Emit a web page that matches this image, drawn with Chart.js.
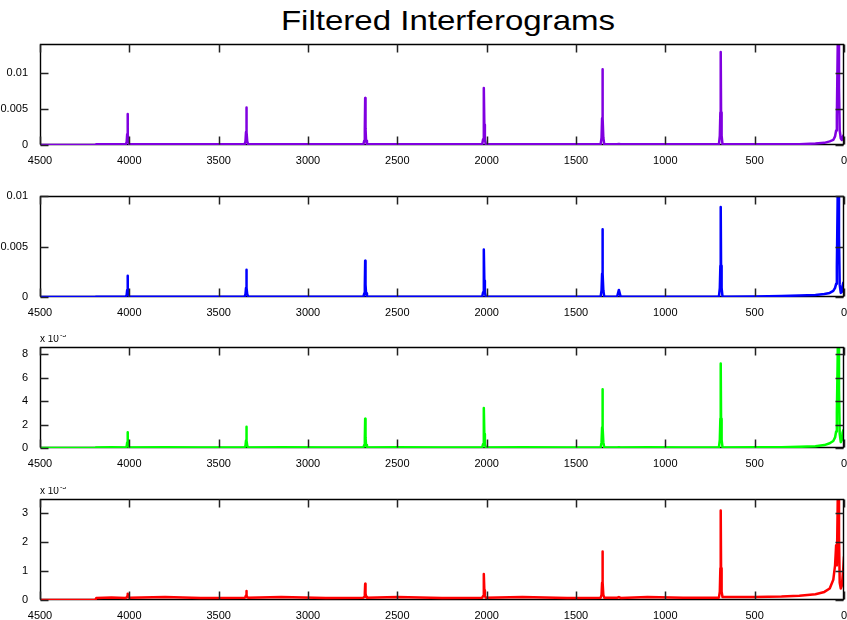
<!DOCTYPE html>
<html>
<head>
<meta charset="utf-8">
<script src="https://cdn.jsdelivr.net/npm/chart.js@4"></script>
<style>
  body { margin: 0; background: #fff; width: 847px; height: 620px; overflow: hidden; position: relative; }
  #title { position: absolute; left: 0; top: 7px; width: 896px; text-align: center;
           font-family: 'Liberation Sans', Arial, sans-serif; font-size: 28px; line-height: 28px; color: #000;
           transform: scaleX(1.18); transform-origin: 448px 0; }
  canvas { position: absolute; left: 0; }
</style>
</head>
<body>
<div id="title">Filtered Interferograms</div>
<canvas id="p1" width="847" height="133" style="top:32px"></canvas>
<canvas id="p2" width="847" height="133" style="top:184px"></canvas>
<canvas id="p3" width="847" height="133" style="top:335px"></canvas>
<canvas id="p4" width="847" height="133" style="top:487px"></canvas>
<script>
// sample positions shared by all four traces
const freq = [4500, 4190, 4185, 4100,
  4020, 4015, 4012, 4010, 4008, 4005, 4000,
  3800, 3600,
  3355, 3350, 3347, 3345, 3343, 3340, 3335,
  3150, 2900,
  2690, 2685, 2682, 2680, 2678, 2675, 2670,
  2500, 2250,
  2025, 2020, 2017, 2015, 2013, 2010, 2005,
  1800, 1550,
  1362, 1357, 1354, 1352, 1350, 1347, 1342,
  1270, 1260, 1250,
  1100, 900,
  700, 695, 692, 690, 688, 685, 680,
  500, 350, 250, 160, 110, 80, 60, 50, 44, 40, 36, 32, 28, 24, 18, 12, 8, 4, 0];

const purpleY = [0, 0, 0.0001, 0.00012,
  0.0001, 0.0004, 0.0015, 0.0043, 0.0015, 0.0004, 0.0001,
  0.00012, 0.0001,
  0.0001, 0.0005, 0.0018, 0.0052, 0.0018, 0.0005, 0.0001,
  0.00012, 0.0001,
  0.0001, 0.0006, 0.0023, 0.0065, 0.0023, 0.0006, 0.0001,
  0.00012, 0.0001,
  0.0001, 0.0008, 0.0028, 0.0079, 0.0028, 0.0008, 0.0001,
  0.0001, 0.00012,
  0.0001, 0.001, 0.0037, 0.0105, 0.0037, 0.001, 0.0001,
  0.0001, 0.00015, 0.0001,
  0.00012, 0.0001,
  0.0001, 0.0013, 0.0045, 0.0129, 0.0045, 0.0013, 0.0001,
  0.0001, 0.0001, 0.00012, 0.0002, 0.0003, 0.0005, 0.0007, 0.0012, 0.002, 0.004, 0.012, 0.02, 0.008, 0.002, 0.0009, 0.0007, 0.001, 0.0013, 0.0009];

const blueY = [0, 0, 0.00003, 0.00003,
  0.00003, 0.0002, 0.0007, 0.0021, 0.0007, 0.0002, 0.00003,
  0.00003, 0.00003,
  0.00003, 0.00027, 0.0009, 0.0027, 0.0009, 0.00027, 0.00003,
  0.00003, 0.00003,
  0.00003, 0.00036, 0.0012, 0.0036, 0.0012, 0.00036, 0.00003,
  0.00003, 0.00003,
  0.00003, 0.00047, 0.0016, 0.0047, 0.0016, 0.00047, 0.00003,
  0.00003, 0.00003,
  0.00003, 0.00067, 0.0023, 0.0067, 0.0023, 0.00067, 0.00003,
  0.00003, 0.0007, 0.00003,
  0.00003, 0.00003,
  0.00003, 0.0009, 0.0031, 0.0089, 0.0031, 0.0009, 0.00003,
  0.00005, 0.0001, 0.00015, 0.0002, 0.0003, 0.0004, 0.0006, 0.0009, 0.0013, 0.003, 0.009, 0.016, 0.006, 0.0012, 0.0004, 0.0005, 0.0011, 0.0014, 0.0008];

const greenY = [0, 0, 0.00005, 0.00006,
  0.00005, 0.00014, 0.00047, 0.00135, 0.00047, 0.00014, 0.00005,
  0.00006, 0.00005,
  0.00005, 0.00018, 0.00063, 0.0018, 0.00063, 0.00018, 0.00005,
  0.00006, 0.00005,
  0.00005, 0.00025, 0.00088, 0.0025, 0.00088, 0.00025, 0.00005,
  0.00006, 0.00005,
  0.00005, 0.00034, 0.0012, 0.0034, 0.0012, 0.00034, 0.00005,
  0.00006, 0.00005,
  0.00005, 0.0005, 0.00175, 0.005, 0.00175, 0.0005, 0.00005,
  0.00005, 0.00007, 0.00005,
  0.00006, 0.00005,
  0.00005, 0.00072, 0.0025, 0.0072, 0.0025, 0.00072, 0.00005,
  0.00006, 0.00006, 0.0001, 0.00015, 0.00025, 0.0004, 0.0006, 0.0009, 0.0014, 0.003, 0.007, 0.012, 0.005, 0.0012, 0.0005, 0.0007, 0.0013, 0.0015, 0.0009];

const redY = [0, 0, 0.00007, 0.00009,
  0.00007, 0.00009, 0.00013, 0.00022, 0.00013, 0.00009, 0.00008,
  0.0001, 0.00007,
  0.00008, 0.0001, 0.00016, 0.00031, 0.00016, 0.0001, 0.00008,
  0.0001, 0.00007,
  0.00008, 0.00011, 0.00024, 0.00056, 0.00024, 0.00011, 0.00008,
  0.0001, 0.00007,
  0.00008, 0.00014, 0.00034, 0.0009, 0.00034, 0.00014, 0.00008,
  0.0001, 0.00007,
  0.00008, 0.00018, 0.0006, 0.00168, 0.0006, 0.00018, 0.00008,
  0.00008, 0.0001, 0.00007,
  0.0001, 0.00008,
  0.00008, 0.0003, 0.0011, 0.0031, 0.0011, 0.0003, 0.0001,
  0.0001, 0.00012, 0.00015, 0.0002, 0.00028, 0.0004, 0.0007, 0.0012, 0.0019, 0.0012, 0.003, 0.005, 0.0022, 0.0006, 0.0004, 0.0005, 0.0008, 0.0011, 0.0015];

const xTicks = [4500, 4000, 3500, 3000, 2500, 2000, 1500, 1000, 500, 0];
const xLabels = ['4500', '4000', '3500', '3000', '2500', '2000', '1500', '1000', '500', '0'];

const yTicksA = [0, 0.005, 0.01];
const yLabelsA = ['0', '0.005', '0.01'];
const yTicksC = [0, 0.002, 0.004, 0.006, 0.008];
const yLabelsC = ['0', '2', '4', '6', '8'];
const yTicksD = [0, 0.001, 0.002, 0.003];
const yLabelsD = ['0', '1', '2', '3'];

const FONT = "'Liberation Sans', Arial, sans-serif";
const TICK = 8;

// bottom edge goes under the trace, the rest of the box and the inward ticks on top of it
const axesBox = {
  id: 'axesBox',
  beforeDatasetsDraw(chart) {
    const { ctx, chartArea: a } = chart;
    ctx.save();
    ctx.strokeStyle = '#000';
    ctx.lineWidth = 1.4;
    ctx.beginPath();
    ctx.moveTo(a.left, a.bottom - 0.5);
    ctx.lineTo(a.right, a.bottom - 0.5);
    ctx.stroke();
    ctx.restore();
  },
  afterDatasetsDraw(chart) {
    const { ctx, chartArea: a, scales } = chart;
    const l = a.left + 0.5, r = a.right - 0.5, t = a.top + 0.5, b = a.bottom - 0.5;
    ctx.save();
    ctx.strokeStyle = '#000';
    ctx.lineWidth = 1.4;
    ctx.beginPath();
    ctx.moveTo(l, b); ctx.lineTo(l, t); ctx.lineTo(r, t); ctx.lineTo(r, b);
    ctx.stroke();

    ctx.strokeStyle = '#222';
    ctx.lineWidth = 1.5;
    ctx.beginPath();
    for (const v of xTicks) {
      const px = Math.round(scales.x.getPixelForValue(v)) + 0.5;
      ctx.moveTo(px, b); ctx.lineTo(px, b - TICK);
      ctx.moveTo(px, t); ctx.lineTo(px, t + TICK);
    }
    for (const tk of scales.y.ticks) {
      const py = Math.round(scales.y.getPixelForValue(tk.value)) + 0.5;
      ctx.moveTo(l, py); ctx.lineTo(l + TICK, py);
      ctx.moveTo(r, py); ctx.lineTo(r - TICK, py);
    }
    ctx.stroke();
    ctx.restore();
  },
  afterDraw(chart, args, opts) {
    if (!opts.exponent) return;
    const { ctx, chartArea: a } = chart;
    ctx.save();
    ctx.fillStyle = '#000';
    ctx.textBaseline = 'alphabetic';
    ctx.font = '10px ' + FONT;
    ctx.fillText('x 10', a.left, a.top - 5);
    const w = ctx.measureText('x 10').width;
    ctx.font = '7px ' + FONT;
    ctx.fillText(opts.exponent, a.left + w + 1, a.top - 10);
    ctx.restore();
  }
};

function panel(id, values, color, yMax, yTicks, yLabels, exponent) {
  new Chart(document.getElementById(id), {
    type: 'line',
    data: {
      datasets: [{
        data: freq.map((f, i) => ({ x: f, y: values[i] })),
        borderColor: color,
        borderWidth: 2.5,
        borderJoinStyle: 'round',
        borderCapStyle: 'round',
        pointRadius: 0,
        fill: false,
        tension: 0
      }]
    },
    options: {
      responsive: false,
      animation: false,
      devicePixelRatio: 1,
      layout: { padding: { top: 12, right: 3, left: 0, bottom: 0 } },
      plugins: {
        legend: { display: false },
        tooltip: { enabled: false },
        axesBox: { exponent: exponent }
      },
      scales: {
        x: {
          type: 'linear',
          reverse: true,
          min: 0,
          max: 4500,
          grid: { display: false },
          border: { display: false },
          afterFit: s => { s.height = 20; s.paddingLeft = 0; s.paddingRight = 0; },
          afterBuildTicks: s => { s.ticks = xTicks.map(v => ({ value: v })); },
          ticks: {
            autoSkip: false,
            maxRotation: 0,
            padding: 1,
            color: '#000',
            font: { family: FONT, size: 11 },
            callback: (v, i) => xLabels[i]
          }
        },
        y: {
          min: 0,
          max: yMax,
          grid: { display: false },
          border: { display: false },
          afterFit: s => { s.width = 40; s.paddingTop = 0; s.paddingBottom = 0; },
          afterBuildTicks: s => { s.ticks = yTicks.map(v => ({ value: v })); },
          ticks: {
            padding: 4,
            color: '#000',
            font: { family: FONT, size: 11 },
            callback: (v, i) => yLabels[i]
          }
        }
      }
    },
    plugins: [axesBox]
  });
}

panel('p1', purpleY, '#8000E0', 0.014, yTicksA, yLabelsA, null);
panel('p2', blueY, '#0000FF', 0.01, yTicksA, yLabelsA, null);
panel('p3', greenY, '#00FF00', 0.0086, yTicksC, yLabelsC, '-3');
panel('p4', redY, '#FF0000', 0.0035, yTicksD, yLabelsD, '-3');
</script>
</body>
</html>
